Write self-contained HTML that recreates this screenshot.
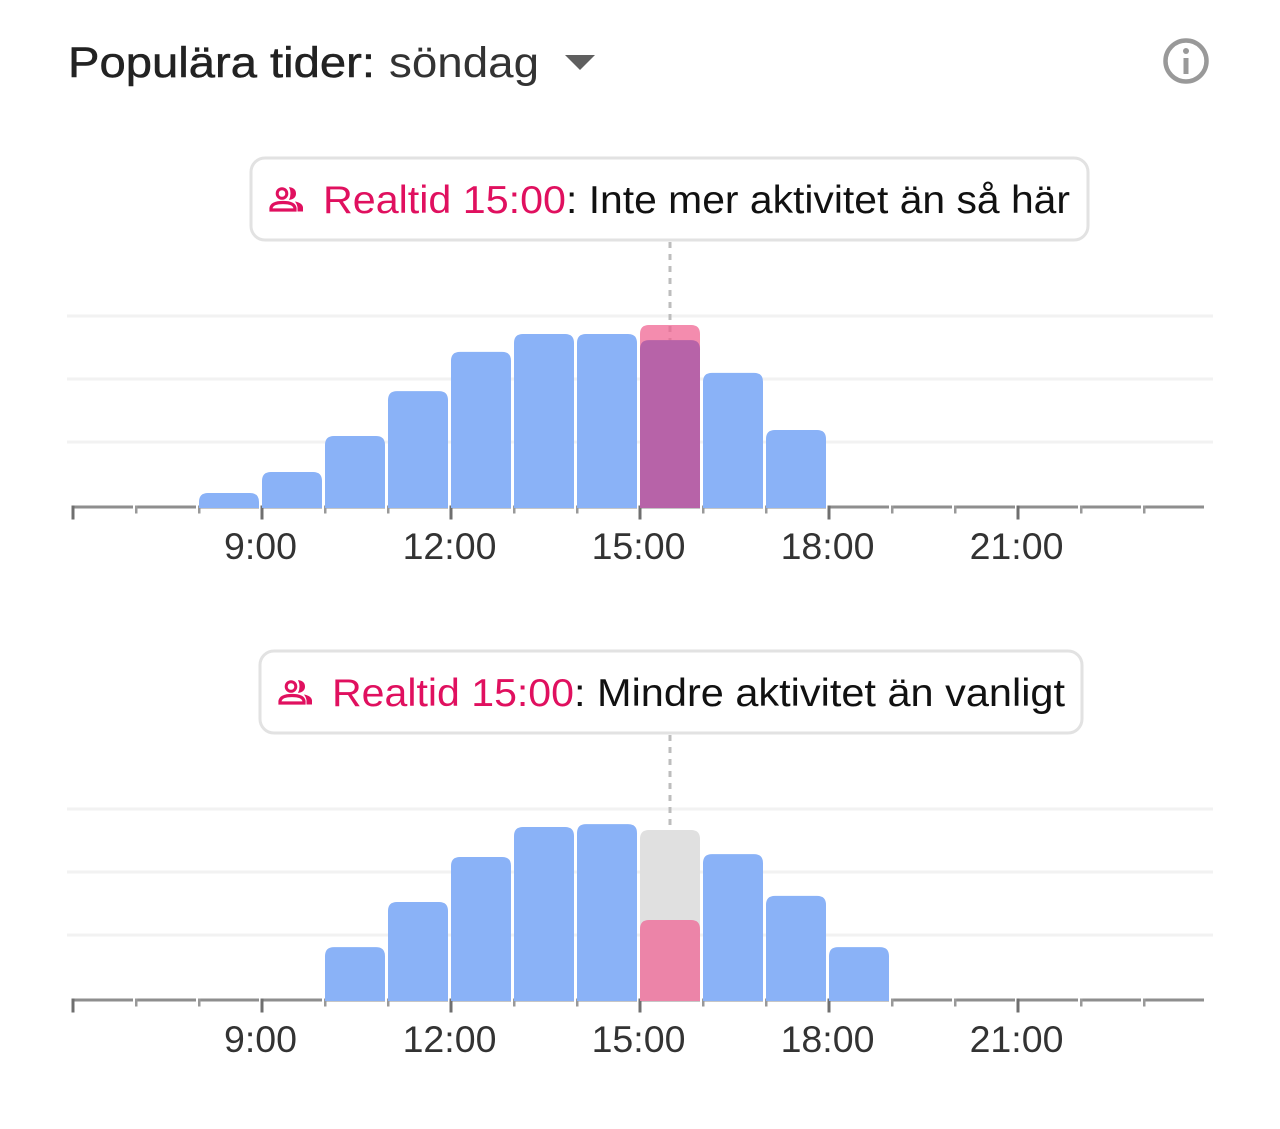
<!DOCTYPE html>
<html lang="sv">
<head>
<meta charset="utf-8">
<title>Populära tider</title>
<style>
html,body{margin:0;padding:0;background:#fff;width:1280px;height:1129px;overflow:hidden}
svg{display:block;font-family:"Liberation Sans",sans-serif}
</style>
</head>
<body>
<svg id="root" width="1280" height="1129" viewBox="0 0 1280 1129">
  <text x="68" y="77" font-size="43" fill="#222" stroke="#222" stroke-width="0.5" textLength="307" lengthAdjust="spacingAndGlyphs">Populära tider:</text>
  <text x="389" y="77" font-size="43" fill="#333" textLength="150" lengthAdjust="spacingAndGlyphs">söndag</text>
  <polygon points="565,55 595,55 580,70" fill="#5f5f5f"/>
  <g>
    <circle cx="1186" cy="61" r="20.5" fill="none" stroke="#999" stroke-width="4.5"/>
    <rect x="1183.5" y="58" width="5" height="16" fill="#999"/>
    <circle cx="1186" cy="51" r="3" fill="#999"/>
  </g>
  <g id="chart-a"></g>
  <g id="chart-b"></g>
</svg>
<script>
const hours = [6,7,8,9,10,11,12,13,14,15,16,17,18,19,20,21,22,23];
const tickLabels = ["9:00","12:00","15:00","18:00","21:00"];
const tickLabelHours = [9,12,15,18,21];
const gridLevels = [100,67,34];
const usualA = [0,0,7.3,18.3,37.2,60.7,81.2,90.6,90.6,87.4,70.2,40.3,0,0,0,0,0,0];
const usualB = [0,0,0,0,27.7,51.3,74.9,90.6,92.1,89,76.4,54.5,27.7,0,0,0,0,0];
const liveHour = 15;
const liveA = 95.3;
const liveB = 41.9;
const liveTimeLabel = "Realtid 15:00";
const statusA = ": Inte mer aktivitet än så här";
const statusB = ": Mindre aktivitet än vanligt";

const NS = "http://www.w3.org/2000/svg";
function el(parent, tag, attrs, text){
  const n = document.createElementNS(NS, tag);
  for (const k in attrs) n.setAttribute(k, attrs[k]);
  if (text !== undefined) n.textContent = text;
  parent.appendChild(n);
  return n;
}
function xScale(hour){ return 73 + 63 * hours.indexOf(hour); }
function yScale(v, base){ return base - v * 1.91; }
function barPath(x, w, top, bottom){
  const h = bottom - top;
  const r = Math.min(9, h);
  return "M"+x+" "+bottom+"V"+(top+r)+"Q"+x+" "+top+" "+(x+r)+" "+top+"H"+(x+w-r)+"Q"+(x+w)+" "+top+" "+(x+w)+" "+(top+r)+"V"+bottom+"Z";
}
function drawChart(g, cfg){
  const base = cfg.base;
  gridLevels.forEach(function(v){
    const line = el(g, "rect", {x:67, y:yScale(v, base)-1.5, width:1146, height:3, fill:"#f2f2f2"});
    
    
  });
  const guide = el(g, "line", {x1:670, x2:670, y1:cfg.boxY+84, y2:cfg.guideEnd, stroke:"#bdbdbd", "stroke-width":3, "stroke-dasharray":"6 6"});
  
  

  hours.forEach(function(h, i){
    const x = xScale(h);
    const seg = el(g, "rect", {x:x, y:base-1.5, width:60, height:3, fill:"#8e8e8e"});
    
    
    const major = (h % 3 === 0);
    const tick = el(g, "rect", {x:major ? x-1.5 : x-1, y:base-1.5, width:major ? 3 : 2.5, height:major ? 14 : 8, fill:major ? "#6f6f6f" : "#999"});
    
    
  });

  hours.forEach(function(h, i){
    const x = xScale(h);
    const v = cfg.values[i];
    if (h === liveHour) {
      if (cfg.live > v) {
        const lb = el(g, "path", {d:barPath(x, 60, yScale(cfg.live, base), base+1), fill:"#f0608f", "fill-opacity":0.72});
        
        
        const ob = el(g, "path", {d:barPath(x, 60, yScale(v, base), base+1), fill:"#b763a8"});
        
        
      } else {
        const ub = el(g, "path", {d:barPath(x, 60, yScale(v, base), base+1), fill:"#e0e0e0"});
        
        
        const lb2 = el(g, "path", {d:barPath(x, 60, yScale(cfg.live, base), base+1), fill:"#ec84a8"});
        
        
      }
    } else if (v > 0) {
      const b = el(g, "path", {d:barPath(x, 60, yScale(v, base), base+1), fill:"#8ab2f7"});
      
      
    }
  });

  tickLabelHours.forEach(function(h, i){
    const t = el(g, "text", {x:xScale(h)-1.5, y:base+52, "font-size":37.5, fill:"#333", "text-anchor":"middle"}, tickLabels[i]);
    
    
  });

  const box = el(g, "rect", {x:cfg.boxX, y:cfg.boxY, width:cfg.boxW, height:82, rx:14, fill:"#fff", stroke:"#e2e2e2", "stroke-width":3});
  
  

  const ix = cfg.boxX + 18, iy = cfg.boxY + 29;
  const icon = el(g, "g", {});
  
  
  el(icon, "circle", {cx:ix+13, cy:iy+6.5, r:4.8, fill:"none", stroke:"#e0105f", "stroke-width":3});
  el(icon, "path", {d:"M"+(ix+2)+" "+(iy+23)+"V"+(iy+21)+"Q"+(ix+3)+" "+(iy+15.5)+" "+(ix+14)+" "+(iy+15.5)+"Q"+(ix+25)+" "+(iy+15.5)+" "+(ix+26)+" "+(iy+21)+"V"+(iy+23)+"Z", fill:"none", stroke:"#e0105f", "stroke-width":3.2});
  el(icon, "path", {d:"M"+(ix+20)+" "+(iy)+"Q"+(ix+27)+" "+(iy+1)+" "+(ix+27)+" "+(iy+6.5)+"Q"+(ix+27)+" "+(iy+12)+" "+(ix+20)+" "+(iy+13)+"Q"+(ix+23)+" "+(iy+6.5)+" "+(ix+20)+" "+(iy)+"Z", fill:"#e0105f"});
  el(icon, "path", {d:"M"+(ix+26)+" "+(iy+14.5)+"Q"+(ix+34)+" "+(iy+16)+" "+(ix+34)+" "+(iy+21)+"V"+(iy+24.5)+"H"+(ix+28.5)+"V"+(iy+20)+"Q"+(ix+28)+" "+(iy+17)+" "+(ix+26)+" "+(iy+14.5)+"Z", fill:"#e0105f"});

  const t1 = el(g, "text", {x:cfg.boxX+72, y:cfg.boxY+55, "font-size":39, fill:"#e0105f", textLength:cfg.labelW, lengthAdjust:"spacingAndGlyphs"}, liveTimeLabel);
  
  
  const t2 = el(g, "text", {x:cfg.statusX, y:cfg.boxY+55, "font-size":39, fill:"#111", textLength:cfg.statusW, lengthAdjust:"spacingAndGlyphs"}, cfg.status);
  
  
}
drawChart(document.getElementById("chart-a"), {base:507, values:usualA, live:liveA, status:statusA, boxX:251, boxY:158, boxW:837, guideEnd:342, labelW:243, statusX:566, statusW:504});
drawChart(document.getElementById("chart-b"), {base:1000, values:usualB, live:liveB, status:statusB, boxX:260, boxY:651, boxW:822, guideEnd:832, labelW:242, statusX:574, statusW:491});
</script>
</body>
</html>
